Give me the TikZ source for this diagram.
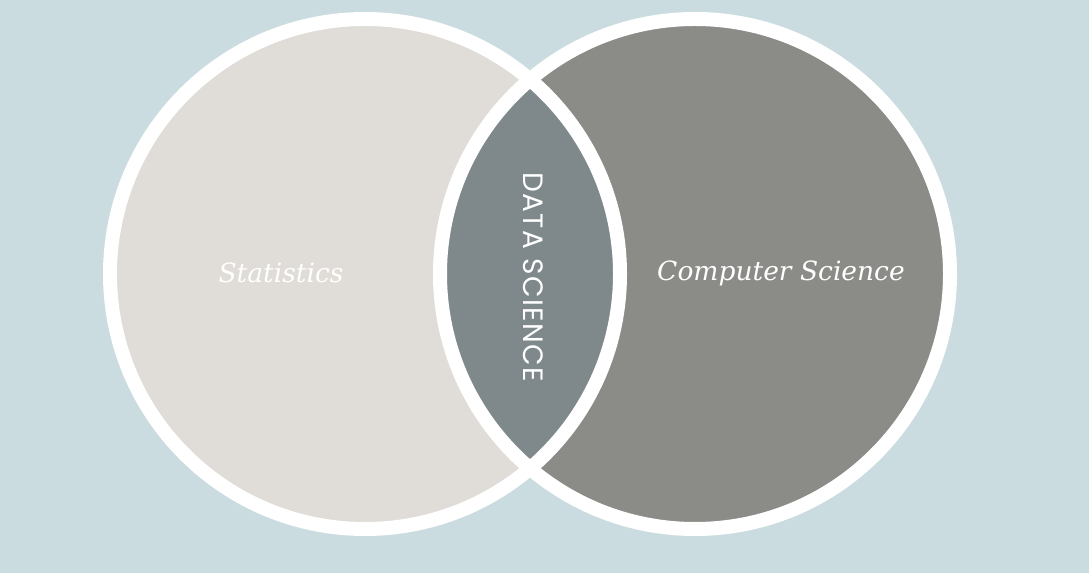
\documentclass[tikz,border=0pt]{standalone}
\usepackage{fontspec}
\newfontfamily\setfont{DejaVu Serif}
\newfontfamily\lensfont[LetterSpace=5]{Poppins}
\usetikzlibrary{positioning}

\definecolor{bgblue}{HTML}{CADCDF}
\definecolor{statsfill}{HTML}{E0DCD7}
\definecolor{csfill}{HTML}{8B8B87}
\definecolor{lensfill}{HTML}{7F898B}

\begin{document}
\begin{tikzpicture}[x=1pt,y=1pt,
    ring/.style={draw=white, line width=14pt},
    setlabel/.style={text=white, font=\setfont\itshape\fontsize{26.5}{28}\selectfont},
    lenslabel/.style={text=white, rotate=-90, font=\lensfont\fontsize{28}{30}\selectfont}]
    \fill[bgblue] (0,0) rectangle (1089,573);
    \useasboundingbox (0,0) rectangle (1089,573);
    \coordinate (statsC) at (365,299);
    \coordinate (csC) at (695,299);
    % the two sets
    \fill[statsfill] (statsC) circle (255);
    \fill[csfill] (csC) circle (255);
    % overlap
    \begin{scope}
        \clip (statsC) circle (255);
        \fill[lensfill] (csC) circle (255);
    \end{scope}
    \draw[ring] (statsC) circle (255);
    \draw[ring] (csC) circle (255);
    \node[setlabel]  (stats) at (281,300) {Statistics};
    \node[setlabel]  (cs)    at (781,300) {Computer Science};
    \node[lenslabel] (ds)    at (533,296) {DATA SCIENCE};
\end{tikzpicture}
\end{document}
